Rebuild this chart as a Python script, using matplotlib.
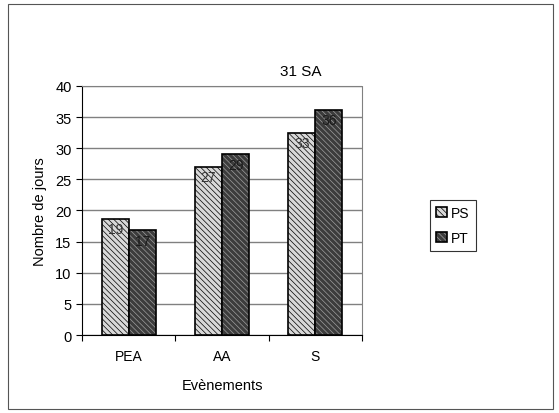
import matplotlib.pyplot as plt
import numpy as np
from matplotlib.patches import Rectangle

plt.rcParams['font.family'] = ['Liberation Sans', 'DejaVu Sans']
plt.rcParams['hatch.linewidth'] = 0.5

events = ['PEA', 'AA', 'S']
ps = [18.7, 27.0, 32.5]
pt = [16.8, 29.0, 36.2]
ps_labels = ['19', '27', '33']
pt_labels = ['17', '29', '36']

fig = plt.figure(figsize=(5.59, 4.14), dpi=100)
ax = fig.add_axes([0.1467, 0.1884, 0.501, 0.6015])

x = np.arange(len(events))
w = 0.29
plt.rcParams['hatch.color'] = '#888888'
b1 = ax.bar(x - w/2, ps, w, color='#d8d8d8', edgecolor='black', linewidth=1.2,
            hatch='\\\\\\\\\\\\', label='PS', zorder=3)
b2 = ax.bar(x + w/2, pt, w, color='#3c3c3c', edgecolor='black', linewidth=1.2,
            hatch='\\\\\\\\\\\\', label='PT', zorder=3)
for bar in b2:
    bar._hatch_color = (0.62, 0.62, 0.62, 1)

for xi, v, t in zip(x - w/2, ps, ps_labels):
    ax.text(xi, v - 1.7, t, ha='center', va='center', fontsize=10, color='#333333', zorder=4)
for xi, v, t in zip(x + w/2, pt, pt_labels):
    ax.text(xi, v - 1.7, t, ha='center', va='center', fontsize=10, color='#1a1a1a', zorder=4)

ax.set_xlim(-0.5, 2.5)
ax.set_ylim(0, 40)
ax.set_yticks(range(0, 41, 5))
ax.set_xticks([-0.5, 0.5, 1.5, 2.5], minor=False)
ax.set_xticklabels([])
ax.set_xticks(x, minor=True)
ax.set_xticklabels(events, minor=True)
ax.tick_params(axis='x', which='minor', length=0, labelsize=10, pad=10)
ax.tick_params(axis='x', which='major', length=4, direction='out')
ax.tick_params(axis='y', labelsize=10.5, length=4)
ax.grid(axis='y', color='#808080', linewidth=1, zorder=0)
for s in ['top', 'right']:
    ax.spines[s].set_color('#808080')
    ax.spines[s].set_linestyle((0, (2, 1)))
ax.set_ylabel('Nombre de jours', fontsize=10.5, labelpad=6)
ax.set_xlabel('Evènements', fontsize=10.5, labelpad=11)

fig.text(0.538, 0.826, '31 SA', ha='center', va='center', fontsize=11)

leg = fig.legend(handles=[b1, b2], labels=['PS', 'PT'], loc='center',
                 bbox_to_anchor=(0.81, 0.453), fontsize=10, frameon=True,
                 fancybox=False, edgecolor='black', handlelength=0.8,
                 handleheight=0.8, handletextpad=0.3, borderpad=0.45,
                 labelspacing=0.8)
leg.get_frame().set_linewidth(0.8)

fig.patches.append(Rectangle((0.015, 0.01), 0.975, 0.978, transform=fig.transFigure,
                             fill=False, edgecolor='#555555', linewidth=0.8))

plt.savefig('out.png', dpi=100)
